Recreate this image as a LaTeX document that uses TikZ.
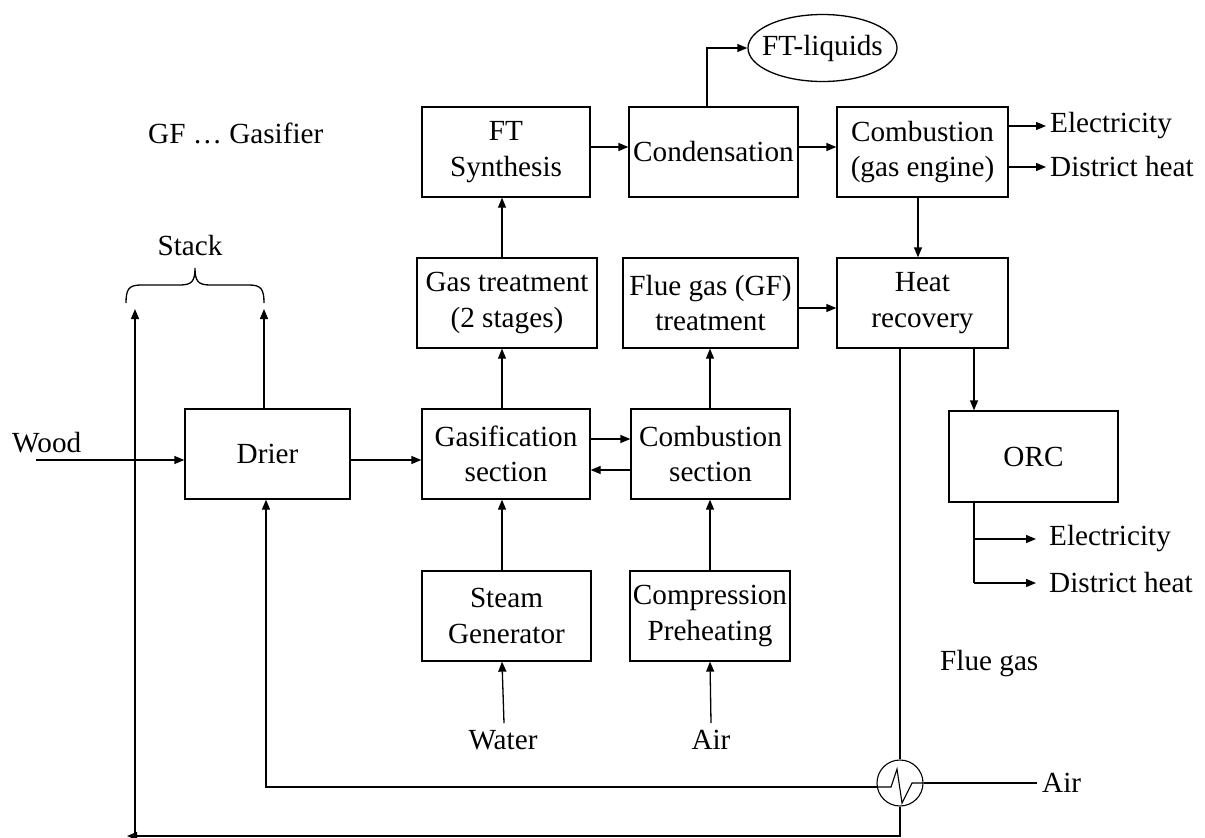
\documentclass[tikz,border=0pt]{standalone}
\usepackage{fontspec}
\setmainfont{Liberation Serif}
\usetikzlibrary{arrows.meta,shapes.geometric}
\begin{document}
\begin{tikzpicture}[x=1pt,y=-1pt,
  every node/.style={font=\fontsize{29.2}{35.5}\selectfont},
  box/.style={draw,line width=1.3pt,rectangle,align=center,inner sep=0pt,minimum height=90pt},
  lbl/.style={inner sep=0pt},
  arr/.style={line width=1.3pt,-{Triangle[length=10pt,width=8pt]}},
  ln/.style={line width=1.3pt}]
\useasboundingbox (0,0) rectangle (1205,838);
% boxes
\node[box,minimum width=165pt] (drier) at (267.5,454) {Drier};
\node[box,minimum width=168pt] (gasif) at (506,454) {Gasification\\section};
\node[box,minimum width=159pt] (combs) at (710.5,454) {Combustion\\section};
\node[box,minimum width=180pt] (gastreat) at (507,303) {Gas treatment\\(2 stages)};
\node[box,minimum width=175pt] (flue) at (710.5,303) {Flue gas (GF)\\treatment};
\node[box,minimum width=168pt] (ft) at (506,152) {FT\\Synthesis};
\node[box,minimum width=169pt] (cond) at (713.5,152) {Condensation};
\node[box,minimum width=171pt] (cge) at (922.5,152) {Combustion\\(gas engine)};
\node[box,minimum width=171pt] (hr) at (922.5,303) {Heat\\recovery};
\node[box,minimum width=169pt,minimum height=91pt] (orc) at (1033.5,456.5) {ORC};
\node[box,minimum width=169pt] (steam) at (506.5,616) {Steam\\Generator};
\node[box,minimum width=160pt] (comp) at (710,616) {Compression\\Preheating};
\node[draw,ellipse,line width=1.3pt,minimum width=149pt,minimum height=67pt,inner sep=0pt] (ftl) at (822.5,48) {\makebox[40pt]{FT-liquids}};
\node[draw,circle,line width=1.1pt,minimum size=46pt,inner sep=0pt] (hx) at (900,783) {};
% labels
\node[lbl,anchor=base west] (wood) at (12,452) {Wood};
\node[lbl,anchor=base] (stack) at (190,255) {Stack};
\node[lbl,anchor=base west] (gf) at (148,143) {GF … Gasifier};
\node[lbl,anchor=base west] (fluegas) at (940,670) {Flue gas};
\node[lbl,anchor=base] (water) at (503,749) {Water};
\node[lbl,anchor=base] (airin) at (711,749) {Air};
\node[lbl,anchor=base west] (airhx) at (1042,792) {Air};
\node[lbl,anchor=west] (el1) at (1050,126) {Electricity};
\node[lbl,anchor=west] (dh1) at (1050,167) {District heat};
\node[lbl,anchor=west] (el2) at (1049,539) {Electricity};
\node[lbl,anchor=west] (dh2) at (1049,583) {District heat};
% coordinates
\coordinate (x502) at (502,0);
\coordinate (x710) at (710,0);
\coordinate (x707) at (707,0);
\coordinate (x918) at (918,0);
\coordinate (x974) at (974,0);
\coordinate (x900) at (900,0);
\coordinate (x266) at (266,0);
\coordinate (x264) at (264,0);
\coordinate (woodstart) at (36,460);
\coordinate (y460) at (0,460);
\coordinate (y439) at (0,439);
\coordinate (y470) at (0,470);
\coordinate (y308) at (0,308);
\coordinate (y147) at (0,147);
\coordinate (ftlcorner) at (707,48);
\coordinate (orcbot) at (974,583);
\coordinate (el2tip) at (1036,539);
\coordinate (dh2tip) at (1036,583);
\coordinate (waterstart) at (504,723);
\coordinate (airstart) at (711,723);
\coordinate (hxleft) at (877,787);
\coordinate (drierbend) at (266,787);
\coordinate (hxbot) at (900,836);
\coordinate (botleft) at (127,836);
\coordinate (stackL0) at (135,836);
\coordinate (stackL) at (135,309);
\coordinate (stackR) at (264,309);
\coordinate (airend) at (1037,783);
% connectors
\draw[arr] (woodstart) -- (drier.west |- woodstart);
\draw[arr] (drier.east |- y460) -- (gasif.west |- y460);
\draw[arr] (gasif.east |- y439) -- (combs.west |- y439);
\draw[arr] (combs.west |- y470) -- (gasif.east |- y470);
\draw[arr] (gasif.north -| x502) -- (gastreat.south -| x502);
\draw[arr] (gastreat.north -| x502) -- (ft.south -| x502);
\draw[arr] (steam.north -| x502) -- (gasif.south -| x502);
\draw[arr] (waterstart) -- (steam.south -| x502);
\draw[arr] (combs.north -| x710) -- (flue.south -| x710);
\draw[arr] (comp.north -| x710) -- (combs.south -| x710);
\draw[arr] (airstart) -- (comp.south -| x710);
\draw[arr] (ft.east |- y147) -- (cond.west |- y147);
\draw[arr] (cond.east |- y147) -- (cge.west |- y147);
\draw[arr] (cond.north -| x707) -- (ftlcorner) -- (ftl.west);
\draw[arr,shorten >=4pt] (cge.east |- el1.west) -- (el1.west);
\draw[arr,shorten >=4pt] (cge.east |- dh1.west) -- (dh1.west);
\draw[arr] (cge.south -| x918) -- (hr.north -| x918);
\draw[arr] (flue.east |- y308) -- (hr.west |- y308);
\draw[arr] (hr.south -| x974) -- (orc.north -| x974);
\draw[ln] (orc.south -| x974) -- (orcbot);
\draw[arr] (el2tip -| x974) -- (el2tip);
\draw[arr] (orcbot) -- (dh2tip);
\draw[arr] (drier.north -| x264) -- (stackR);
\draw[ln] (hr.south -| x900) -- (hx.north);
\draw[arr] (hx.south) -- (hxbot) -- (botleft);
\draw[arr] (stackL0) -- (stackL);
\draw[ln] (airend) -- (hx.east);
\draw[arr] (hxleft) -- (drierbend) -- (drier.south -| x266);
% zigzag inside exchanger
\draw[line width=1.1pt] (hxleft) -- (891,787) -- (897,769) -- (902,803) -- (912,783) -- (hx.east);
% brace
\draw[line width=1.3pt] (126,303) .. controls (126,289) and (129,285) .. (141,285) -- (180,285) .. controls (192,285) and (195,281) .. (195,268) .. controls (195,281) and (198,285) .. (210,285) -- (249,285) .. controls (261,285) and (264,289) .. (264,303);
\end{tikzpicture}
\end{document}
